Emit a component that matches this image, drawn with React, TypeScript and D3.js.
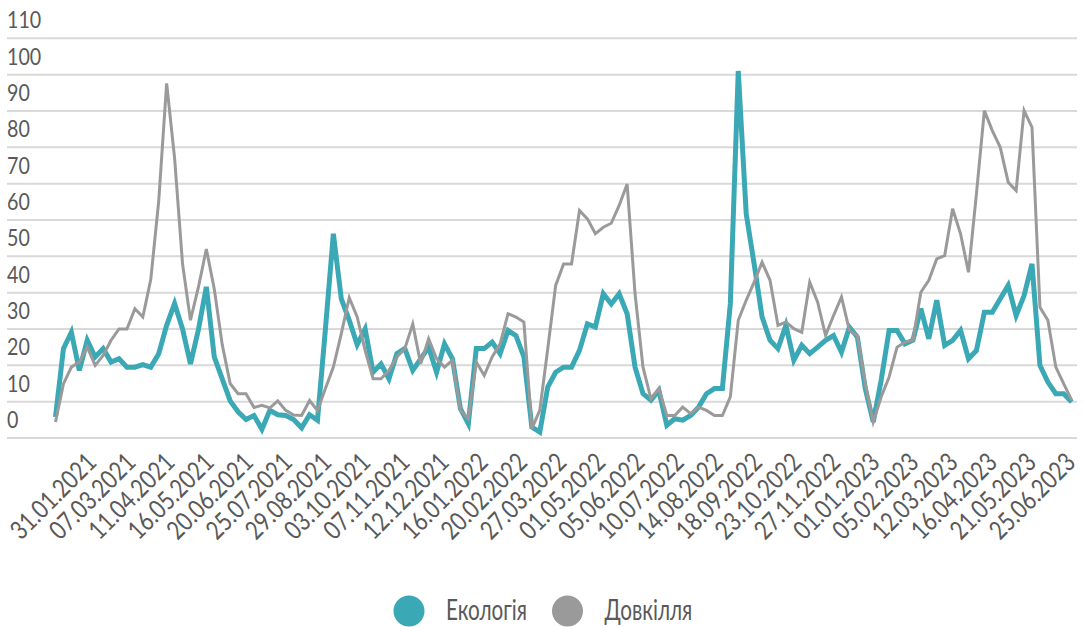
import React, { useEffect, useRef } from 'react'
import * as d3 from 'd3'

// weekly mentions
const ecology = [
  5.8, 24.6, 29.1, 18.6, 26.9, 22.3, 24.6, 20.9, 21.8, 19.5, 19.5, 20.2, 19.5, 23.2, 31, 37, 30, 20.4, 29.8, 41.6,
  22.3, 16.3, 10.2, 7.2, 5.1, 6.2, 2.4, 7.6, 6.4, 6.2, 5.1, 2.8, 6.4, 4.9, 30, 56.2, 38.3, 32.4, 25.7, 30,
  18.1, 20.4, 16.3, 23.2, 24.6, 18.6, 21.8, 25, 18.1, 25.9, 21.8, 8.1, 3.9, 24.6, 24.6, 26.4, 23.2, 29.6, 28.2, 22.3,
  3, 1.6, 14, 18.1, 19.5, 19.5, 24.1, 31.4, 30.5, 39.7, 36.9, 39.7, 34.2, 19.5, 12.2, 10.4, 13.1, 3.5, 5.3, 4.9,
  6.2, 8.5, 12.2, 13.6, 13.6, 36.9, 101, 61.7, 47.9, 33.3, 26.9, 24.6, 31, 21.4, 25.5, 23.2, 25, 26.9, 28.2, 23.6,
  30.5, 27.8, 13.6, 4.4, 15.9, 29.6, 29.6, 25.9, 26.9, 35.6, 27.3, 37.9, 25.5, 26.9, 29.6, 21.8, 24.1, 34.6, 34.6, 38.3,
  42, 33.7, 39.2, 47.9, 20, 15.4, 12.2, 12.2, 9.9,
]

const environment = [
  4.4, 14.9, 19.5, 20.9, 25, 20, 22.7, 26.9, 30, 30, 35.6, 33.3, 43.6, 65.2, 97.6, 77, 48, 32.4, 41.5, 52,
  41, 25.7, 15, 12.2, 12.2, 8.4, 9, 8.3, 10.2, 7.6, 6.3, 6.2, 10.3, 7.6, 13.6, 19.5, 28.7, 38.6, 33.3, 24.1,
  16.3, 16.3, 18.6, 22.3, 24.6, 31.4, 20.4, 27.3, 21.8, 19.5, 21.4, 7.6, 5.3, 20.9, 17.2, 22.3, 25.9, 34.2, 33.3, 31.9,
  2.6, 7.6, 24.5, 42, 47.9, 47.9, 62.6, 60.3, 56.2, 58, 59.1, 64, 69.9, 39.7, 19.5, 10.8, 13.6, 6.2, 6.2, 8.5,
  6.7, 8.5, 7.6, 6.2, 6.2, 11.3, 32.4, 37.9, 42.9, 48.4, 43.4, 31, 31.9, 30.1, 29.1, 42.9, 37.4, 28.2, 33.7, 38.8,
  29.6, 28.2, 14.9, 4.4, 11.3, 16.8, 25, 26.4, 26.9, 40.1, 43.4, 49.3, 50.2, 63.1, 56.2, 45.6, 67.2, 90.1, 84.6, 80,
  70.4, 68.1, 90.1, 85.5, 36, 32.4, 19.5, 14.9, 10.4,
]

const dateLabels = [
  '31.01.2021', '07.03.2021', '11.04.2021', '16.05.2021', '20.06.2021', '25.07.2021', '29.08.2021',
  '03.10.2021', '07.11.2021', '12.12.2021', '16.01.2022', '20.02.2022', '27.03.2022', '01.05.2022',
  '05.06.2022', '10.07.2022', '14.08.2022', '18.09.2022', '23.10.2022', '27.11.2022', '01.01.2023',
  '05.02.2023', '12.03.2023', '16.04.2023', '21.05.2023', '25.06.2023',
]

const yTicks = [0, 10, 20, 30, 40, 50, 60, 70, 80, 90, 100, 110]

const seriesNames = ['Екологія', 'Довкілля']
const seriesColors = ['#3ba8b5', '#9a9a9a']

const W = 1084, H = 627
const FONT = 'Lato, "Noto Sans", sans-serif'
const TEXT = '#595959'
const NARROW = 0.82 // the original font is a condensed one

function LineChart() {
  const ref = useRef<SVGSVGElement>(null)

  useEffect(() => {
    const svg = d3.select(ref.current)
    svg.selectAll('*').remove()

    let y = d3.scaleLinear().domain([0, 110]).range([438, 38.3])
    let x = d3.scalePoint<number>().domain(d3.range(ecology.length)).range([55.5, 1071.7])
    let xl = d3.scalePoint<string>().domain(dateLabels).range([98, 1077])

    // gridlines + y labels (labels sit above their line)
    let grid = svg.append('g')
    grid.selectAll('line')
      .data(yTicks)
      .enter()
      .append('line')
      .attr('x1', 7)
      .attr('x2', 1077)
      .attr('y1', d => y(d))
      .attr('y2', d => y(d))
      .attr('stroke', '#d9d9d9')
      .attr('stroke-width', 2)

    grid.selectAll('text')
      .data(yTicks)
      .enter()
      .append('text')
      .attr('transform', d => 'translate(7,' + (y(d) - 10) + ') scale(' + NARROW + ',1)')
      .attr('font-family', FONT)
      .attr('font-size', 24)
      .attr('fill', TEXT)
      .text(d => d)

    // rotated date labels
    svg.append('g')
      .selectAll('text')
      .data(dateLabels)
      .enter()
      .append('text')
      .attr('transform', d => 'translate(' + xl(d) + ',464) rotate(-45) scale(' + NARROW + ',1)')
      .attr('text-anchor', 'end')
      .attr('font-family', FONT)
      .attr('font-size', 26)
      .attr('fill', TEXT)
      .text(d => d)

    let line = d3.line<number>()
      .x((d, i) => x(i) as number)
      .y(d => y(d))

    svg.append('path')
      .datum(ecology)
      .attr('d', line)
      .attr('fill', 'none')
      .attr('stroke', seriesColors[0])
      .attr('stroke-width', 5)

    svg.append('path')
      .datum(environment)
      .attr('d', line)
      .attr('fill', 'none')
      .attr('stroke', seriesColors[1])
      .attr('stroke-width', 3)

    // legend
    const legendX = [409, 567.5]
    let legend = svg.append('g')
      .selectAll('g')
      .data(seriesNames)
      .enter()
      .append('g')
      .attr('transform', (d, i) => 'translate(' + legendX[i] + ',611)')
    legend.append('circle')
      .attr('r', 15.5)
      .attr('fill', (d, i) => seriesColors[i])
    legend.append('text')
      .attr('transform', 'translate(37,9) scale(0.74,1)')
      .attr('font-family', FONT)
      .attr('font-size', 28)
      .attr('fill', TEXT)
      .text(d => d)
  }, [])

  return <svg ref={ref} width={W} height={H} style={{ position: 'absolute', left: 0, top: 0 }} />
}

export default function App() {
  return <LineChart />
}
